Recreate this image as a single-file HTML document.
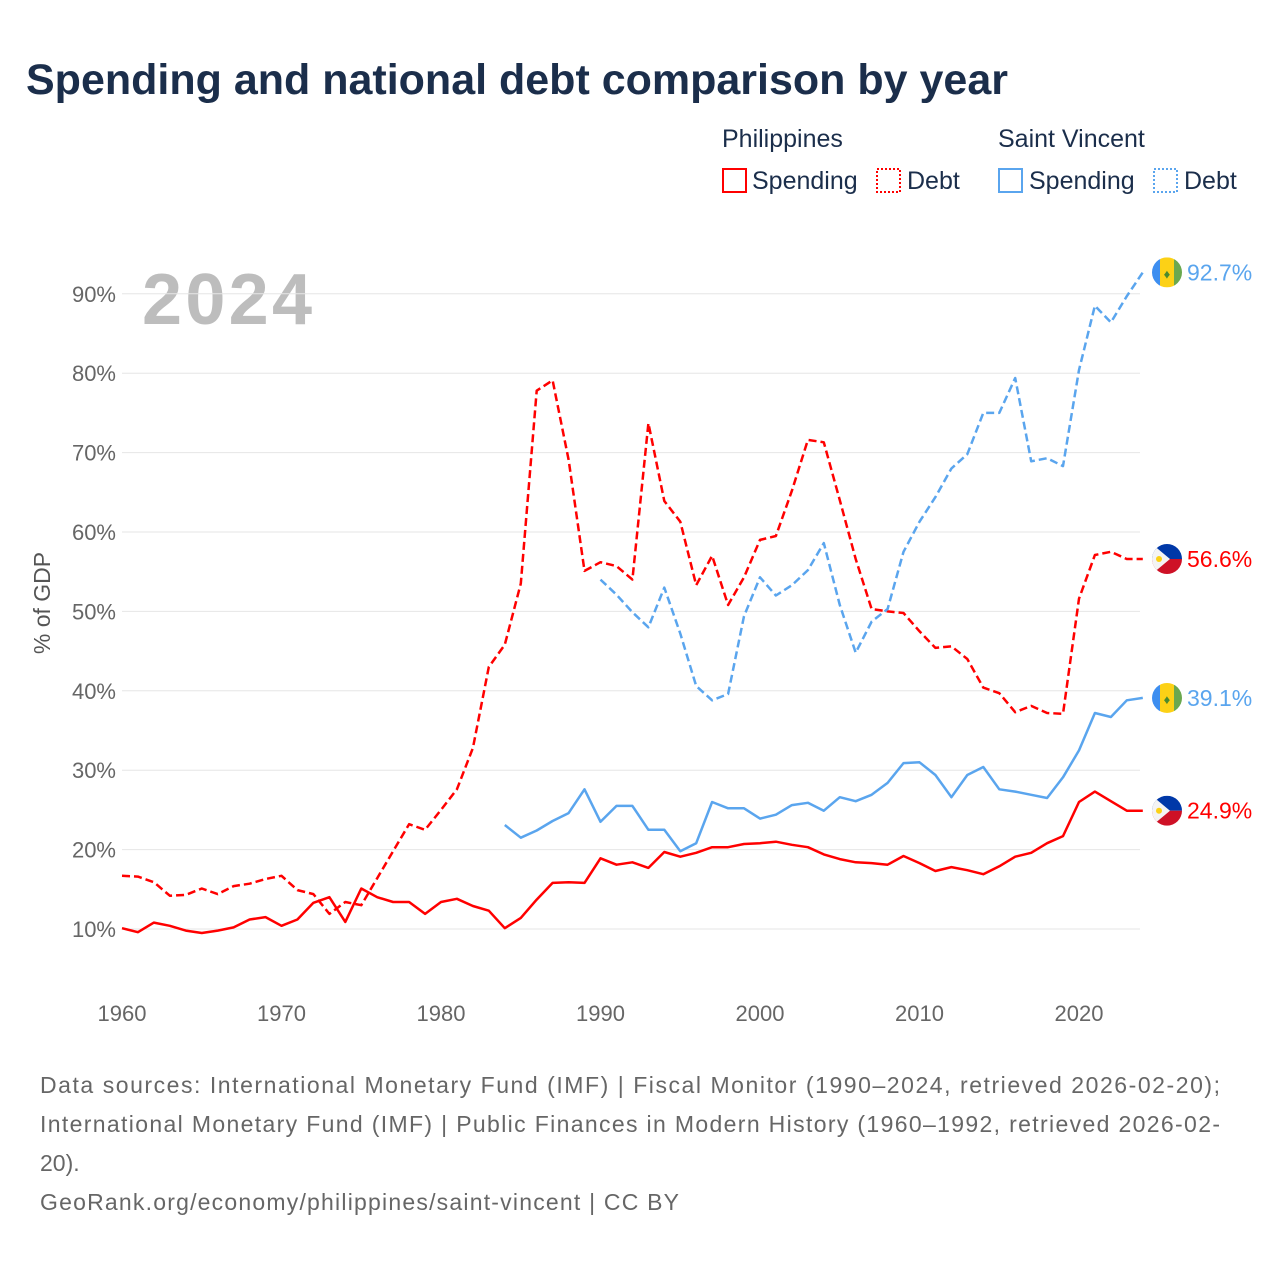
<!DOCTYPE html>
<html><head><meta charset="utf-8"><style>
body{margin:0;background:#fff;font-family:"Liberation Sans",sans-serif}
#wrap{position:relative;width:1280px;height:1280px;overflow:hidden}
</style></head><body>
<div id="wrap">
<svg id="chart" width="1280" height="1280">
<text x="26" y="94" font-size="43" font-weight="bold" fill="#1b2e4b">Spending and national debt comparison by year</text>
<g font-size="25" fill="#1b2e4b">
<text x="722" y="147">Philippines</text>
<text x="998" y="147">Saint Vincent</text>
<g><rect x="723" y="169" width="23" height="23" fill="none" stroke="#f00" stroke-width="2"/><text x="752" y="189">Spending</text></g>
<g><rect x="877" y="169" width="23" height="23" fill="none" stroke="#f00" stroke-width="2" stroke-dasharray="2,2"/><text x="907" y="189">Debt</text></g>
<g><rect x="999" y="169" width="23" height="23" fill="none" stroke="#5aa5ee" stroke-width="2"/><text x="1029" y="189">Spending</text></g>
<g><rect x="1154" y="169" width="23" height="23" fill="none" stroke="#5aa5ee" stroke-width="2" stroke-dasharray="2,2"/><text x="1184" y="189">Debt</text></g>
</g>
<text x="142" y="324" font-size="72" font-weight="bold" fill="#bdbdbd" textLength="170">2024</text>
<text transform="translate(50,603) rotate(-90)" text-anchor="middle" font-size="23" fill="#555">% of GDP</text>
<g id="grid"></g><g id="series"></g><g id="labels"></g>
<g font-size="23" fill="#666">
<text x="40" y="1093" textLength="1180">Data sources: International Monetary Fund (IMF) | Fiscal Monitor (1990–2024, retrieved 2026-02-20);</text>
<text x="40" y="1132" textLength="1180">International Monetary Fund (IMF) | Public Finances in Modern History (1960–1992, retrieved 2026-02-</text>
<text x="40" y="1171">20).</text>
<text x="40" y="1210" textLength="639">GeoRank.org/economy/philippines/saint-vincent | CC BY</text>
</g>
</svg></div>
<script>
const yTicks=[10,20,30,40,50,60,70,80,90];
const xTicks=[1960,1970,1980,1990,2000,2010,2020];
const phSpendStart=1960;
const phSpending=[10.1,9.6,10.8,10.4,9.8,9.5,9.8,10.2,11.2,11.5,10.4,11.2,13.3,14.0,10.9,15.1,14.0,13.4,13.4,11.9,13.4,13.8,12.9,12.3,10.1,11.4,13.7,15.8,15.9,15.8,18.9,18.1,18.4,17.7,19.7,19.1,19.6,20.3,20.3,20.7,20.8,21.0,20.6,20.3,19.4,18.8,18.4,18.3,18.1,19.2,18.3,17.3,17.8,17.4,16.9,17.9,19.1,19.6,20.8,21.7,26.0,27.3,26.1,24.9,24.9];
const phDebtStart=1960;
const phDebt=[16.7,16.6,15.9,14.2,14.3,15.1,14.4,15.4,15.7,16.3,16.7,14.9,14.4,11.9,13.4,13.0,16.4,19.8,23.2,22.5,25.0,27.6,32.8,43.0,45.8,53.5,77.8,79.1,69.1,55.1,56.2,55.7,54.0,73.7,63.9,61.3,53.3,57.0,50.8,54.3,59.0,59.5,65.2,71.6,71.3,64.0,56.6,50.3,50.0,49.8,47.5,45.4,45.6,44.0,40.4,39.7,37.3,38.1,37.2,37.1,51.6,57.1,57.5,56.6,56.6];
const svSpendStart=1984;
const svSpending=[23.1,21.5,22.4,23.6,24.6,27.6,23.5,25.5,25.5,22.5,22.5,19.8,20.8,26.0,25.2,25.2,23.9,24.4,25.6,25.9,24.9,26.6,26.1,26.9,28.4,30.9,31.0,29.4,26.6,29.4,30.4,27.6,27.3,26.9,26.5,29.1,32.5,37.2,36.7,38.8,39.1];
const svDebtStart=1990;
const svDebt=[54.0,52.1,49.9,48.0,53.0,47.2,40.6,38.8,39.6,49.4,54.3,52.0,53.3,55.2,58.6,50.8,44.8,48.7,50.3,57.5,61.3,64.4,68.0,69.8,75.0,75.0,79.4,68.9,69.3,68.3,80.4,88.5,86.4,89.7,92.7];
const NS='http://www.w3.org/2000/svg';
const X=y=>122+(y-1960)*15.95;
const Y=v=>929-(v-10)*7.94;
function mk(t,a,p){const e=document.createElementNS(NS,t);for(const k in a)e.setAttribute(k,a[k]);p.appendChild(e);return e;}
const grid=document.getElementById('grid');
yTicks.forEach(v=>{
 const l=mk('line',{x1:122,x2:1140,y1:Y(v),y2:Y(v),stroke:'#e6e6e6','stroke-width':1},grid);
 
 
 const t=mk('text',{x:116,y:Y(v)+8,'text-anchor':'end','font-size':22,fill:'#666'},grid);
 t.textContent=v+'%';
 
 
});
xTicks.forEach(yr=>{
 const t=mk('text',{x:X(yr),y:1021,'text-anchor':'middle','font-size':22,fill:'#666'},grid);
 t.textContent=yr;
 
 
});
const ser=document.getElementById('series');
function line(arr,start,color,dash,name){
 const pts=arr.map((v,i)=>X(start+i).toFixed(1)+','+Y(v).toFixed(1)).join(' ');
 const p=mk('polyline',{points:pts,fill:'none',stroke:color,'stroke-width':2.5,'stroke-linejoin':'round'},ser);
 if(dash)p.setAttribute('stroke-dasharray','8,4');
 
 
}
line(phSpending,phSpendStart,'#f00',false,'line-ph-spending');
line(phDebt,phDebtStart,'#f00',true,'line-ph-debt');
line(svSpending,svSpendStart,'#5aa5ee',false,'line-sv-spending');
line(svDebt,svDebtStart,'#5aa5ee',true,'line-sv-debt');
const lab=document.getElementById('labels');
function flag(kind,v,color,name){
 const cy=Y(v),cx=1167;
 const g=mk('g',{},lab);
 
 
 const id='c'+name;
 const cp=mk('clipPath',{id:id},g);mk('circle',{cx:cx,cy:cy,r:15},cp);
 const f=mk('g',{'clip-path':'url(#'+id+')'},g);
 if(kind==='sv'){
  mk('rect',{x:cx-15,y:cy-15,width:8,height:30,fill:'#3d8ef0'},f);
  mk('rect',{x:cx-7,y:cy-15,width:14,height:30,fill:'#fcd116'},f);
  mk('rect',{x:cx+7,y:cy-15,width:8,height:30,fill:'#6aa84f'},f);
  mk('text',{x:cx,y:cy+6,'text-anchor':'middle','font-size':13,fill:'#4a8a2f'},f).textContent='♦';
 }else{
  mk('rect',{x:cx-15,y:cy-15,width:30,height:15,fill:'#0038a8'},f);
  mk('rect',{x:cx-15,y:cy,width:30,height:15,fill:'#ce1126'},f);
  mk('polygon',{points:(cx-15)+','+(cy-15)+' '+(cx+3)+','+cy+' '+(cx-15)+','+(cy+15),fill:'#f4f4f4'},f);
  mk('circle',{cx:cx-8,cy:cy,r:3,fill:'#fcd116'},f);
 }
 const t=mk('text',{x:1187,y:cy+8,'font-size':23,fill:color},lab);
 t.textContent=v.toFixed(1)+'%';
 
 
}
flag('sv',svDebt[svDebt.length-1],'#5aa5ee','end-label-sv-debt');
flag('ph',phDebt[phDebt.length-1],'#f00','end-label-ph-debt');
flag('sv',svSpending[svSpending.length-1],'#5aa5ee','end-label-sv-spending');
flag('ph',phSpending[phSpending.length-1],'#f00','end-label-ph-spending');
</script>
</body></html>
